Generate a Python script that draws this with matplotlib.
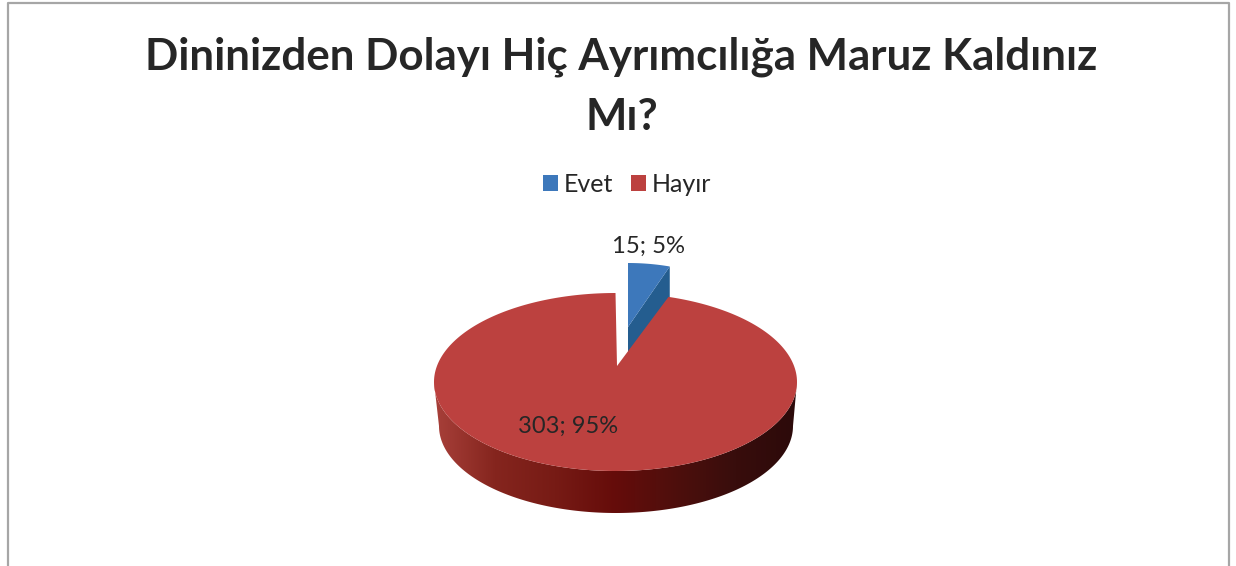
import numpy as np
import matplotlib
matplotlib.use('Agg')
import matplotlib.pyplot as plt
from matplotlib.colors import LinearSegmentedColormap
from matplotlib.patches import Patch, Polygon

title = 'Dininizden Dolayı Hiç Ayrımcılığa Maruz Kaldınız\nMı?'
categories = ['Evet', 'Hayır']
values = [15, 303]
top_colors = ['#3d78bb', '#bc413f']
blue_side = '#245d8f'
wall_colors = ['#a8403a', '#85251e', '#771b15', '#650c0a', '#4e0f0d', '#380d0c', '#2c0a0a']

plt.rcParams['font.family'] = ['Lato', 'DejaVu Sans']

# Pixel coordinates over the whole picture, y going down
fig = plt.figure(figsize=(12.36, 5.66), dpi=100)
ax = fig.add_axes([0, 0, 1, 1])
ax.set_xlim(0, 1236)
ax.set_ylim(566, 0)
ax.axis('off')

# Point on an ellipse, angle measured clockwise from the top
def arc(cx, cy, a, b, t):
    return np.column_stack([cx + a * np.sin(t), cy - b * np.cos(t)])

# Chart frame, cut off at the bottom of the picture
ax.plot([8, 8, 1229, 1229], [566, 3, 3, 566], color='#a6a6a6', lw=1.6)

ax.text(621.5, 86.5, title, ha='center', va='center', fontsize=31.6, fontweight='bold',
        color='#262626', linespacing=1.62)

total = sum(values)
split = 2 * np.pi * values[0] / total

# Blue slice, pulled out from the pie
t = np.linspace(0, split, 30)
blue_rim = arc(628, 343, 143, 80, t)
blue_end = blue_rim[-1]
ax.add_patch(Polygon([blue_end, (628, 327), (628, 354), (blue_end[0], blue_end[1] + 36)],
                     closed=True, fc=blue_side, ec='none', zorder=2))
ax.add_patch(Polygon(np.vstack([[(628, 327)], blue_rim]), closed=True,
                     fc=top_colors[0], ec='none', zorder=3))

# Side wall of the red slice, shaded from left to right
cmap = LinearSegmentedColormap.from_list('wall', wall_colors)
wall_top = arc(615.5, 382, 181.5, 89, np.linspace(np.pi * 0.5, np.pi * 1.5, 200))
wall_bottom = arc(616, 426, 177, 87, np.linspace(np.pi * 1.5, np.pi * 0.5, 200))
wall = Polygon(np.vstack([wall_top, wall_bottom]), closed=True, fc='none', ec='none', zorder=4)
ax.add_patch(wall)
img = ax.imshow(np.linspace(0, 1, 256)[None, :], cmap=cmap, extent=(434, 797, 520, 380),
                aspect='auto', zorder=4)
img.set_clip_path(wall)
ax.set_xlim(0, 1236)
ax.set_ylim(566, 0)

# Red slice on top
t = np.linspace(split, 2 * np.pi, 300)
red_rim = arc(615.5, 382, 181.5, 89, t)
ax.add_patch(Polygon(np.vstack([[(617, 366)], red_rim]), closed=True,
                     fc=top_colors[1], ec='none', zorder=5))

# Data labels
ax.text(649, 246, f'{values[0]}; {values[0] / total:.0%}', ha='center', va='center',
        fontsize=17.2, color='#262626', zorder=6)
ax.text(568, 426, f'{values[1]}; {values[1] / total:.0%}', ha='center', va='center',
        fontsize=17, color='#262626', zorder=6)

handles = [Patch(fc=c, ec='none') for c in top_colors]
ax.legend(handles, categories, ncol=2, loc='center', bbox_to_anchor=(627 / 1236, 1 - 184 / 566),
          frameon=False, fontsize=18, labelcolor='#262626', handlelength=0.6, handleheight=0.6,
          handletextpad=0.25, columnspacing=0.7)

fig.savefig('out.png', dpi=100)
